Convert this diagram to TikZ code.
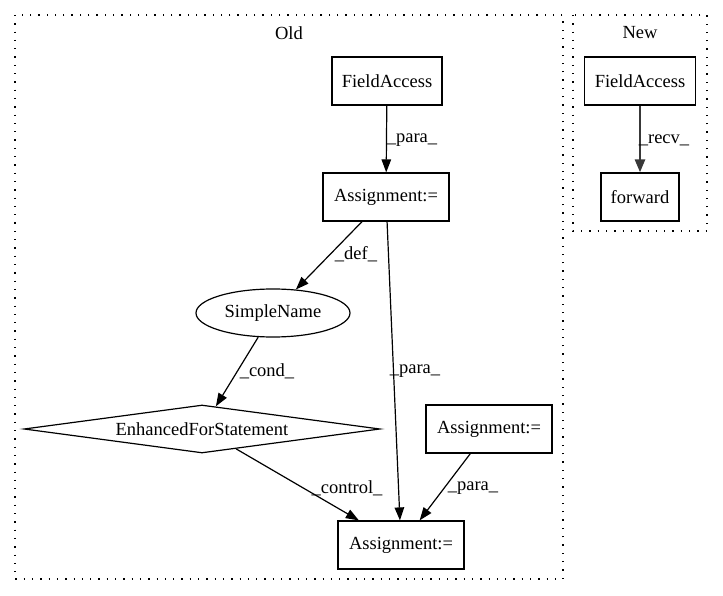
\documentclass[tikz,border=0pt]{standalone}
\usepackage{fontspec}
\setmainfont{Liberation Serif}
\usetikzlibrary{shapes.geometric,arrows.meta}
\begin{document}
\begin{tikzpicture}[x=1pt,y=-1pt,
  every node/.style={font=\fontsize{18.5}{21}\selectfont},
  box/.style={draw,line width=1.2pt,rectangle,inner sep=0pt,minimum height=48pt},
  cluster/.style={draw,line width=1.3pt,dash pattern=on 1.3pt off 7pt},
  edge/.style={draw,line width=1.2pt,-{Triangle[length=13pt,width=9.5pt]}},
  edgebold/.style={draw,line width=2.6pt,color=black!78,-{Triangle[length=13pt,width=10pt]}},
  lbl/.style={inner sep=0pt}
]
\useasboundingbox (0,0) rectangle (723,596);
% clusters
\draw[cluster] (15,15) rectangle (563,579);
\draw[cluster] (573,15) rectangle (707,231);
\node (oldlbl) at (289,33) {Old};
\node (newlbl) at (640,33) {New};
% nodes Old
\node[box,minimum width=110pt] (fa1) at (387,81) {FieldAccess};
\node[box,minimum width=126pt] (as1) at (386,197) {Assignment:=};
\node[draw,line width=1.2pt,ellipse,inner sep=0pt,minimum width=154pt,minimum height=48pt] (sn) at (273,313) {SimpleName};
\node[draw,line width=1.2pt,diamond,shape aspect=7.4,inner sep=0pt,minimum width=356pt,minimum height=48pt] (efs) at (202,429) {EnhancedForStatement};
\node[box,minimum width=126pt] (as2) at (489,429) {Assignment:=};
\node[box,minimum width=126pt] (as3) at (401,545) {Assignment:=};
% nodes New
\node[box,minimum width=111pt] (fa2) at (640,81) {FieldAccess};
\node[box,minimum width=78pt] (fw) at (640,197) {forward};
% edges
\draw[edge] (fa1) -- (as1);
\draw[edge] (as1) -- (sn);
\draw[edge] (as1) -- (as3);
\draw[edge] (sn) -- (efs);
\draw[edge] (efs) -- (as3);
\draw[edge] (as2) -- (as3);
\draw[edgebold] (fa2) -- (fw);
% edge labels
\node[lbl] (l1) at (412,140) {\_para\_};
\node[lbl] (l2) at (356,254) {\_def\_};
\node[lbl] (l3) at (415,371) {\_para\_};
\node[lbl] (l4) at (267,371) {\_cond\_};
\node[lbl] (l5) at (347,488) {\_control\_};
\node[lbl] (l6) at (473,488) {\_para\_};
\node[lbl] (l7) at (664,140) {\_recv\_};
\end{tikzpicture}
\end{document}
